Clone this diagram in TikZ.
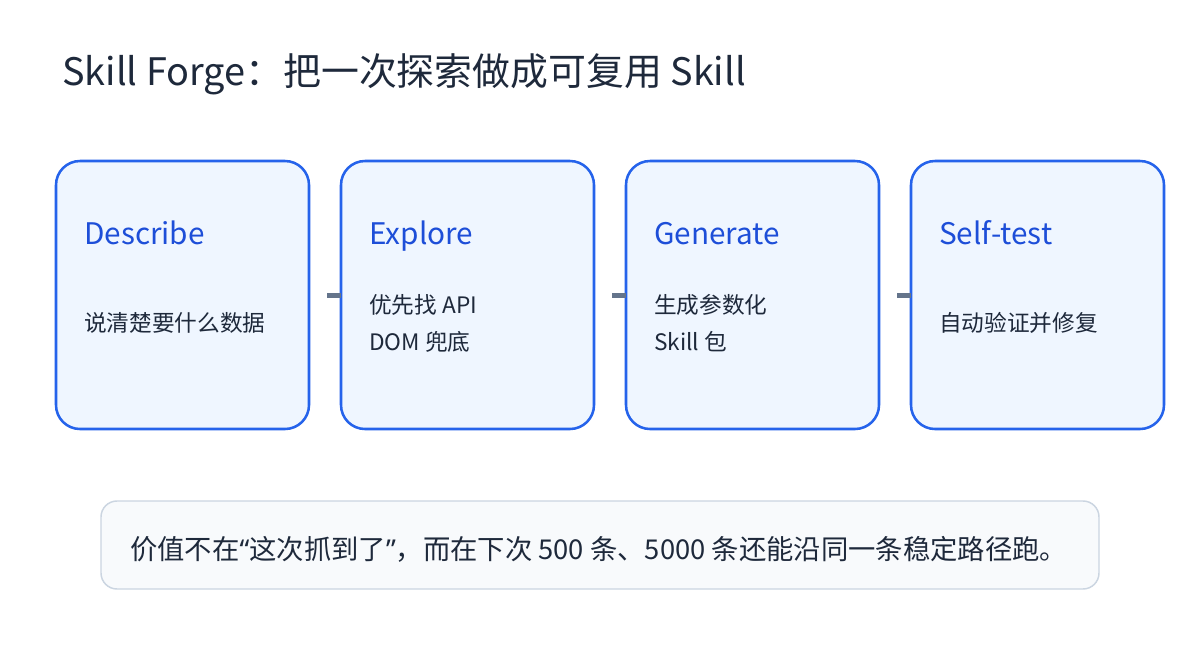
\documentclass[tikz,border=0pt]{standalone}
\usepackage{fontspec}
\setmainfont{Noto Sans CJK SC}
\newfontfamily\latinq{Noto Sans}
\definecolor{ink}{HTML}{1E293B}
\definecolor{boxline}{HTML}{2563EB}
\definecolor{boxfill}{HTML}{EFF6FF}
\definecolor{boxtitle}{HTML}{1D4ED8}
\definecolor{conn}{HTML}{64748B}
\definecolor{notefill}{HTML}{F8FAFC}
\definecolor{noteline}{HTML}{CBD5E1}
\begin{document}
\begin{tikzpicture}[x=0.75pt,y=-0.75pt,
  stagebox/.style={draw=boxline,fill=boxfill,line width=1.9pt,rounded corners=18pt,
    minimum width=189.75pt,minimum height=201pt,anchor=north west,inner sep=0pt,outer sep=0pt},
  stagetitle/.style={anchor=base west,inner sep=0pt,text=boxtitle,font=\fontsize{22.3}{26}\selectfont},
  stagebody/.style={anchor=base west,inner sep=0pt,text=ink,font=\fontsize{17}{27.75}\selectfont,align=left},
  link/.style={draw=conn,line width=3.75pt},
  notebox/.style={draw=noteline,fill=notefill,line width=1.1pt,rounded corners=12pt,
    minimum width=748.5pt,minimum height=66pt,anchor=north west,inner sep=0pt,outer sep=0pt}]
\useasboundingbox[fill=white] (0,0) rectangle (1200,650);
\node[anchor=base west,inner sep=0pt,text=ink,font=\fontsize{28.4}{32}\selectfont] (title) at (62,85) {Skill Forge：把一次探索做成可复用 Skill};
\node[stagebox] (b1) at (56,161) {};
\node[stagebox] (b2) at (341,161) {};
\node[stagebox] (b3) at (626,161) {};
\node[stagebox] (b4) at (911,161) {};
\node[stagetitle] (t1) at (84,244) {Describe};
\node[stagetitle] (t2) at (369,244) {Explore};
\node[stagetitle] (t3) at (654,244) {Generate};
\node[stagetitle] (t4) at (939,244) {Self-test};
\node[stagebody] (d1) at (84,331) {说清楚要什么数据};
\node[stagebody] (d2) at (369,350) {优先找 API\\DOM 兜底};
\node[stagebody] (d3) at (654,350) {生成参数化\\Skill 包};
\node[stagebody] (d4) at (939,331) {自动验证并修复};
\coordinate (c1) at ([xshift=13.5pt]b1.east);
\coordinate (c2) at ([xshift=13.5pt]b2.east);
\coordinate (c3) at ([xshift=13.5pt]b3.east);
\draw[link] (c1) -- (b2.west);
\draw[link] (c2) -- (b3.west);
\draw[link] (c3) -- (b4.west);
\node[notebox] (note) at (101,501) {};
\node[anchor=west,inner sep=0pt,text=ink,font=\fontsize{20.5}{24}\selectfont] (notetext) at (130,549) {价值不在{\latinq “}这次抓到了{\latinq ”}，而在下次 500 条、5000 条还能沿同一条稳定路径跑。};
\end{tikzpicture}
\end{document}
